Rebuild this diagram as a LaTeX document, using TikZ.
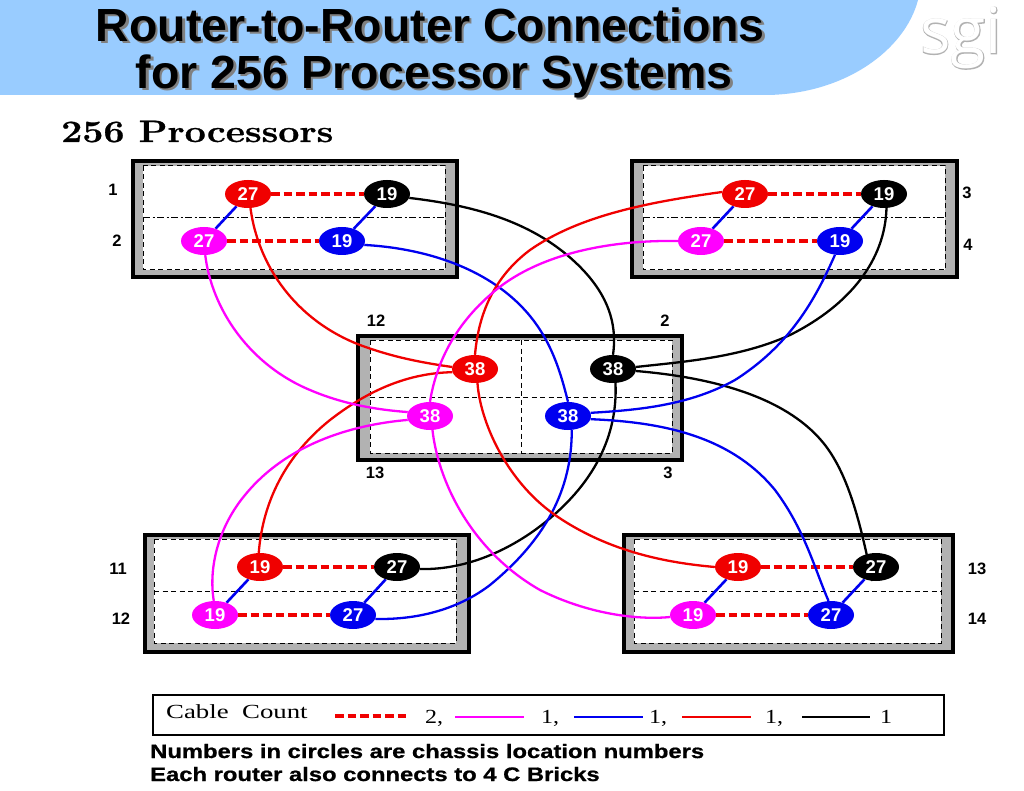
\documentclass[tikz,border=0pt]{standalone}
\usepackage{fontspec}
\newfontfamily\sanf{Liberation Sans}
\newfontfamily\notef[BoldFeatures={FakeBold=0.8}]{Liberation Sans}
\newfontfamily\serifb{Liberation Serif}
\newfontfamily\logof[FakeBold=2]{Open Sans}
\newfontfamily\logon{Open Sans}
\newfontfamily\headf[FakeBold=0.8]{Latin Modern Roman}
\usetikzlibrary{shapes.geometric}
\pgfdeclarelayer{boxes}
\pgfdeclarelayer{cables}
\pgfsetlayers{boxes,cables,main}
\definecolor{hdr}{HTML}{99CCFF}
\definecolor{mag}{HTML}{FF00FF}
\definecolor{blu}{HTML}{0000F0}
\definecolor{rd}{HTML}{F00000}
\tikzset{
 x=1pt,y=-1pt,
 chassis/.style={draw=black,line width=3.2pt,fill=black!30},
 innerbox/.style={draw=black,fill=white,line width=1pt,dash pattern=on 5pt off 3.5pt},
 divh/.style={draw=black,line width=1pt,dash pattern=on 7pt off 2.5pt on 2pt off 2.5pt},
 divc/.style={draw=black,line width=1pt,dash pattern=on 5pt off 3.5pt},
 router/.style={ellipse,inner sep=0pt,minimum width=46pt,minimum height=28pt,text=white,font=\sanf\bfseries\fontsize{18.5}{18.5}\selectfont},
 rr/.style={router,fill=rd},
 rk/.style={router,fill=black},
 rm/.style={router,fill=mag},
 rb/.style={router,fill=blu},
 dbl/.style={draw=rd,line width=4.5pt,dash pattern=on 8.5pt off 4pt},
 cabm/.style={draw=mag,line width=2.3pt},
 cabb/.style={draw=blu,line width=2.3pt},
 cabr/.style={draw=rd,line width=2.3pt},
 cabk/.style={draw=black,line width=2.3pt},
 lnk/.style={draw=blu,line width=2.6pt},
 lab/.style={inner sep=0pt,font=\sanf\bfseries\fontsize{16.5}{16.5}\selectfont},
 leg/.style={inner sep=0pt,anchor=base west,font=\serifb\fontsize{20}{20}\selectfont},
 ttl/.style={inner sep=0pt,anchor=base west,font=\sanf\bfseries\fontsize{46.5}{46.5}\selectfont},
 note/.style={inner sep=0pt,anchor=base west,font=\notef\bfseries\fontsize{19.5}{19.5}\selectfont},
}
\begin{document}
\begin{tikzpicture}
\useasboundingbox (0,0) rectangle (1024,791);
\begin{pgfonlayer}{boxes}
\fill[white] (0,0) rectangle (1024,791);
\fill[hdr] (0,0) -- (918,0) .. controls (905,50) and (845,94) .. (767,95) -- (0,95) -- cycle;
% chassis
\draw[chassis] (133,161) rectangle (457,277);
\draw[innerbox] (143,166) rectangle (445,270);
\draw[divh] (143,218) -- (445,218);
\draw[chassis] (632,161) rectangle (957,277);
\draw[innerbox] (643,166) rectangle (945,270);
\draw[divh] (643,218) -- (945,218);
\draw[chassis] (358,336) rectangle (682,460);
\draw[innerbox] (370,340) rectangle (672,453);
\draw[divc] (370,397) -- (672,397);
\draw[divc] (521,340) -- (521,453);
\draw[chassis] (145,535) rectangle (469,652);
\draw[innerbox] (154,539) rectangle (456,643);
\draw[divc] (154,591) -- (456,591);
\draw[chassis] (624,535) rectangle (953,652);
\draw[innerbox] (634,539) rectangle (941,643);
\draw[divc] (634,591) -- (941,591);
\end{pgfonlayer}
% title
\node[ttl,text=black!50] at (98,44) {Router-to-Router Connections};
\node[ttl,text=black!50] at (138,91) {for 256 Processor Systems};
\node[ttl] (t1) at (95.5,41.5) {Router-to-Router Connections};
\node[ttl] (t2) at (135.5,88.5) {for 256 Processor Systems};
% logo
\node[inner sep=0pt,text=black!30,font=\logof\fontsize{64}{64}\selectfont] at (961,38) {sgi};
\node[inner sep=0pt,text=white,font=\logon\fontsize{64}{64}\selectfont] (logo) at (961,38) {sgi};
\node[inner sep=0pt,anchor=base west,font=\headf\bfseries\fontsize{31}{31}\selectfont] (h) at (61,142) {\scalebox{1.21}[1]{256 Processors}};
% routers
\path
 node[rr] (a1) at (248,194) {27} node[rk] (a2) at (387,194) {19}
 node[rm] (a3) at (204,241) {27} node[rb] (a4) at (342,241) {19}
 node[rr] (b1) at (745,194) {27} node[rk] (b2) at (884,194) {19}
 node[rm] (b3) at (701,241) {27} node[rb] (b4) at (840,241) {19}
 node[rr] (c1) at (475,369) {38} node[rk] (c2) at (613,369) {38}
 node[rm] (c3) at (430,416) {38} node[rb] (c4) at (568,416) {38}
 node[rr] (d1) at (260,567) {19} node[rk] (d2) at (397,567) {27}
 node[rm] (d3) at (215,615) {19} node[rb] (d4) at (353,615) {27}
 node[rr] (e1) at (738,567) {19} node[rk] (e2) at (876,567) {27}
 node[rm] (e3) at (693,615) {19} node[rb] (e4) at (831,615) {27};
\begin{pgfonlayer}{cables}
% dashed double cables and short links
\foreach \p/\q in {a1/a2,a3/a4,b1/b2,b3/b4,d1/d2,d3/d4,e1/e2,e3/e4}{\draw[dbl] (\p) -- (\q);}
\foreach \p/\q in {a1/a3,a2/a4,b1/b3,b2/b4,d1/d3,d2/d4,e1/e3,e2/e4}{\draw[lnk] (\p) -- (\q);}
% black cables
\draw[cabk] (a2.-10) .. controls (470,205) and (530,220) .. (575,262) .. controls (605,290) and (618,320) .. (c2.north);
\draw[cabk] (b2.-80) .. controls (885,260) and (850,305) .. (790,335) .. controls (740,358) and (680,362) .. (c2.5);
\draw[cabk] (c2.-5) .. controls (720,378) and (790,400) .. (825,445) .. controls (848,475) and (860,520) .. (e2.-105);
\draw[cabk] (c2.-80) .. controls (618,440) and (590,490) .. (535,530) .. controls (500,555) and (460,570) .. (d2.-5);
% blue cables
\draw[cabb] (a4.-10) .. controls (420,248) and (480,265) .. (520,305) .. controls (550,335) and (560,370) .. (c4.north);
\draw[cabb] (b4.-110) .. controls (815,300) and (790,345) .. (735,380) .. controls (690,405) and (640,410) .. (c4.8);
\draw[cabb] (c4.-8) .. controls (660,422) and (730,435) .. (775,490) .. controls (805,530) and (815,570) .. (e4.100);
\draw[cabb] (c4.-75) .. controls (572,490) and (545,540) .. (490,585) .. controls (460,608) and (420,620) .. (d4.-10);
% red cables
\draw[cabr] (a1.-80) .. controls (258,265) and (295,320) .. (360,345) .. controls (395,358) and (425,363) .. (c1.175);
\draw[cabr] (b1.175) .. controls (650,202) and (580,215) .. (530,250) .. controls (490,280) and (478,320) .. (c1.north);
\draw[cabr] (c1.188) .. controls (415,373) and (375,385) .. (330,420) .. controls (280,460) and (262,510) .. (d1.95);
\draw[cabr] (c1.-80) .. controls (480,420) and (505,480) .. (555,515) .. controls (610,553) and (670,563) .. (e1.180);
% magenta cables
\draw[cabm] (a3.-85) .. controls (212,310) and (250,365) .. (310,390) .. controls (345,405) and (380,410) .. (c3.170);
\draw[cabm] (b3.180) .. controls (620,240) and (540,250) .. (490,295) .. controls (450,330) and (435,370) .. (c3.north);
\draw[cabm] (c3.190) .. controls (360,424) and (290,440) .. (245,495) .. controls (220,525) and (208,565) .. (d3.95);
\draw[cabm] (c3.-80) .. controls (438,480) and (470,550) .. (540,590) .. controls (590,615) and (640,620) .. (e3.185);
\end{pgfonlayer}
% labels
\path
 node[lab] (l1) at (113,190) {1}
 node[lab] (l2) at (117,241) {2}
 node[lab] (l3) at (967,193) {3}
 node[lab] (l4) at (968,245) {4}
 node[lab] (l5) at (376,321) {12}
 node[lab] (l6) at (665,321) {2}
 node[lab] (l7) at (375,473) {13}
 node[lab] (l8) at (668,473) {3}
 node[lab] (l9) at (118,569) {11}
 node[lab] (l10) at (121,619) {12}
 node[lab] (l11) at (977,569) {13}
 node[lab] (l12) at (977,619) {14};
% legend
\draw[black,line width=2.4pt] (153,695) rectangle (944,735);
\node[leg] (k0) at (166,718) {\scalebox{1.34}[1]{Cable\hspace{.5em}Count}};
\coordinate (k1a) at (335,716); \coordinate (k1b) at (408,716);
\draw[dbl] (k1a) -- (k1b);
\node[leg] (k2) at (425,723) {\scalebox{1.2}[1]{2,}};
\coordinate (k3a) at (455,717); \coordinate (k3b) at (524,717);
\draw[cabm] (k3a) -- (k3b);
\node[leg] (k4) at (541,723) {\scalebox{1.2}[1]{1,}};
\coordinate (k5a) at (574,717); \coordinate (k5b) at (643,717);
\draw[cabb] (k5a) -- (k5b);
\node[leg] (k6) at (649,723) {\scalebox{1.2}[1]{1,}};
\coordinate (k7a) at (682,717); \coordinate (k7b) at (751,717);
\draw[cabr] (k7a) -- (k7b);
\node[leg] (k8) at (765,723) {\scalebox{1.2}[1]{1,}};
\coordinate (k9a) at (802,717); \coordinate (k9b) at (870,717);
\draw[cabk] (k9a) -- (k9b);
\node[leg] (k10) at (880,723) {\scalebox{1.2}[1]{1}};
\node[note] (n1) at (150,758) {\scalebox{1.22}[1]{Numbers in circles are chassis location numbers}};
\node[note] (n2) at (150,781) {\scalebox{1.22}[1]{Each router also connects to 4 C Bricks}};
\end{tikzpicture}
\end{document}
